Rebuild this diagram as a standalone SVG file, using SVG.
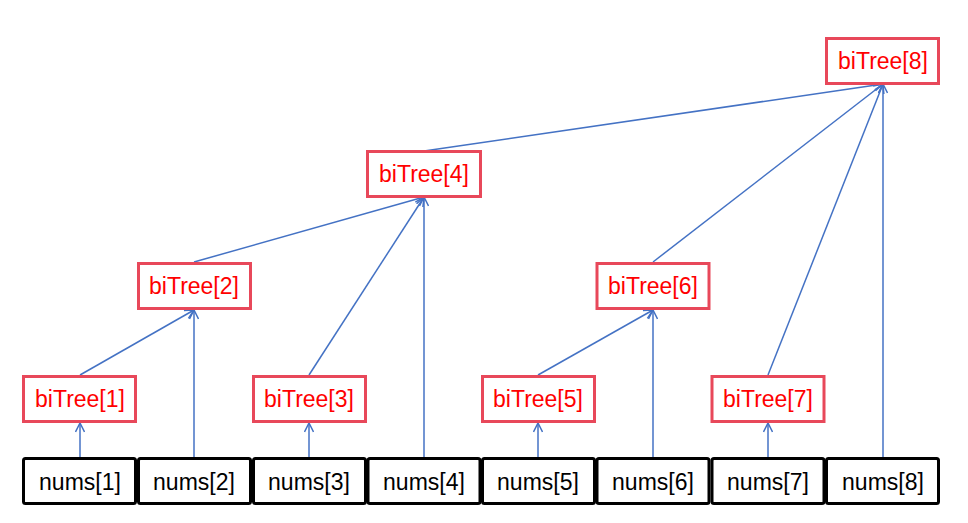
<svg xmlns="http://www.w3.org/2000/svg" width="968" height="523" viewBox="0 0 968 523">
<defs>
<style>
.num rect{fill:#fff;stroke:#000;stroke-width:3}
.num text{font-family:"Liberation Sans",Arial,sans-serif;font-size:23px;fill:#000;text-anchor:middle}
.bt rect{fill:#fff;stroke:#E8485A;stroke-width:3}
.bt text{font-family:"Liberation Sans",Arial,sans-serif;font-size:23px;fill:#FF0000;text-anchor:middle}
#connectors line{stroke:#4472C4;stroke-width:1.5;fill:none;marker-end:url(#arr)}
</style>
<marker id="arr" viewBox="0 0 10 10" refX="10" refY="5" markerWidth="10" markerHeight="10" markerUnits="userSpaceOnUse" orient="auto">
<path d="M1,0.5 L10,5 L1,9.5" fill="none" stroke="#4472C4" stroke-width="1.5"/>
</marker>
</defs>
<rect width="968" height="523" fill="#fff"/>
<g id="connectors">
<line x1="80" y1="457" x2="80" y2="423"/>
<line x1="194" y1="457" x2="194" y2="310"/>
<line x1="80" y1="375" x2="194" y2="310"/>
<line x1="309" y1="457" x2="309" y2="423"/>
<line x1="309" y1="375" x2="424" y2="197"/>
<line x1="424" y1="457" x2="424" y2="197"/>
<line x1="194" y1="262" x2="424" y2="197"/>
<line x1="424" y1="151" x2="883" y2="84"/>
<line x1="538" y1="457" x2="538" y2="423"/>
<line x1="538" y1="375" x2="653" y2="310"/>
<line x1="653" y1="457" x2="653" y2="310"/>
<line x1="653" y1="262" x2="883" y2="84"/>
<line x1="768" y1="457" x2="768" y2="423"/>
<line x1="768" y1="375" x2="883" y2="84"/>
<line x1="883" y1="457" x2="883" y2="84"/>
</g>
<g id="nums1" class="num"><rect x="23.5" y="458.5" width="112" height="45" rx="2"/><text x="80" y="490">nums[1]</text></g>
<g id="nums2" class="num"><rect x="138.5" y="458.5" width="112" height="45" rx="2"/><text x="194" y="490">nums[2]</text></g>
<g id="nums3" class="num"><rect x="253.5" y="458.5" width="112" height="45" rx="2"/><text x="309" y="490">nums[3]</text></g>
<g id="nums4" class="num"><rect x="368" y="458.5" width="112" height="45" rx="2"/><text x="424" y="490">nums[4]</text></g>
<g id="nums5" class="num"><rect x="482.5" y="458.5" width="112" height="45" rx="2"/><text x="538" y="490">nums[5]</text></g>
<g id="nums6" class="num"><rect x="597" y="458.5" width="112" height="45" rx="2"/><text x="653" y="490">nums[6]</text></g>
<g id="nums7" class="num"><rect x="712" y="458.5" width="112" height="45" rx="2"/><text x="768" y="490">nums[7]</text></g>
<g id="nums8" class="num"><rect x="826.5" y="458.5" width="112" height="45" rx="2"/><text x="883" y="490">nums[8]</text></g>
<g id="biTree1" class="bt"><rect x="23.5" y="376.5" width="112" height="45"/><text x="80" y="407">biTree[1]</text></g>
<g id="biTree2" class="bt"><rect x="138.5" y="263.5" width="112" height="45"/><text x="194" y="294">biTree[2]</text></g>
<g id="biTree3" class="bt"><rect x="253.5" y="376.5" width="112" height="45"/><text x="309" y="407">biTree[3]</text></g>
<g id="biTree4" class="bt"><rect x="367.5" y="151.5" width="113" height="45"/><text x="424" y="182">biTree[4]</text></g>
<g id="biTree5" class="bt"><rect x="482.5" y="376.5" width="112" height="45"/><text x="538" y="407">biTree[5]</text></g>
<g id="biTree6" class="bt"><rect x="597" y="263.5" width="112" height="45"/><text x="653" y="294">biTree[6]</text></g>
<g id="biTree7" class="bt"><rect x="712" y="376.5" width="112" height="45"/><text x="768" y="407">biTree[7]</text></g>
<g id="biTree8" class="bt"><rect x="826.5" y="38.5" width="112" height="45"/><text x="883" y="69">biTree[8]</text></g>
</svg>
